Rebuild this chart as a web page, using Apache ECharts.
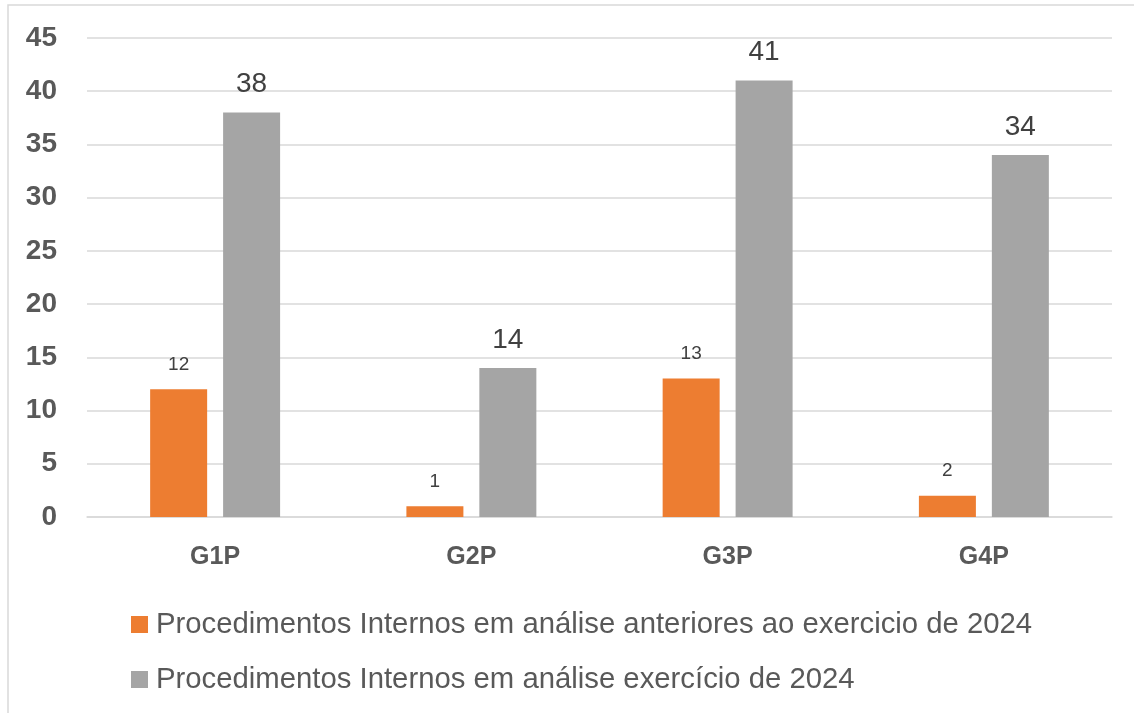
<!DOCTYPE html>
<html>
<head>
<meta charset="utf-8">
<script src="https://cdn.jsdelivr.net/npm/echarts@6/dist/echarts.min.js"></script>
<style>
  html, body { margin: 0; padding: 0; background: #fff; }
  #chart { width: 1134px; height: 713px; }
</style>
</head>
<body>
<div id="chart"></div>
<script>
const categories = ['G1P', 'G2P', 'G3P', 'G4P']
const seriesNames = [
  'Procedimentos Internos em análise anteriores ao exercicio de 2024',
  'Procedimentos Internos em análise exercício de 2024'
]
const anteriores = [12, 1, 13, 2]
const exercicio2024 = [38, 14, 41, 34]

const font = 'Liberation Sans, Arial, sans-serif'
const chart = echarts.init(document.getElementById('chart'))

const option = {
  animation: false,
  textStyle: { fontFamily: font },
  graphic: [
    {
      type: 'rect',
      shape: { x: 8, y: 5, width: 1140, height: 720 },
      style: { fill: 'none', stroke: '#d9d9d9', lineWidth: 1.5 }
    }
  ],
  legend: {
    orient: 'vertical',
    left: 126,
    top: 605,
    itemWidth: 17,
    itemHeight: 17,
    itemGap: 26,
    icon: 'rect',
    textStyle: { fontSize: 29.3, color: '#595959', fontFamily: font, padding: [0, 0, 0, 3] },
    data: seriesNames
  },
  grid: { left: 87, right: 22, top: 38, bottom: 196 },
  xAxis: {
    type: 'category',
    data: categories,
    axisTick: { show: false },
    axisLine: { lineStyle: { color: '#d9d9d9', width: 1.5 } },
    axisLabel: { fontSize: 25, fontWeight: 'bold', color: '#595959', margin: 28 }
  },
  yAxis: {
    type: 'value',
    min: 0,
    max: 45,
    interval: 5,
    axisLine: { show: false },
    axisTick: { show: false },
    splitLine: { lineStyle: { color: '#d9d9d9', width: 1.5 } },
    axisLabel: { fontSize: 28, fontWeight: 'bold', color: '#595959', margin: 30 }
  },
  series: [
    {
      name: seriesNames[0],
      type: 'bar',
      data: anteriores,
      barWidth: 57,
      barGap: '28%',
      itemStyle: { color: '#ED7D31' },
      label: { show: true, position: 'top', distance: 15, fontSize: 19, color: '#404040' }
    },
    {
      name: seriesNames[1],
      type: 'bar',
      data: exercicio2024,
      barWidth: 57,
      itemStyle: { color: '#A5A5A5' },
      label: { show: true, position: 'top', distance: 14, fontSize: 28, color: '#404040' }
    }
  ]
}

chart.setOption(option)
</script>
</body>
</html>
